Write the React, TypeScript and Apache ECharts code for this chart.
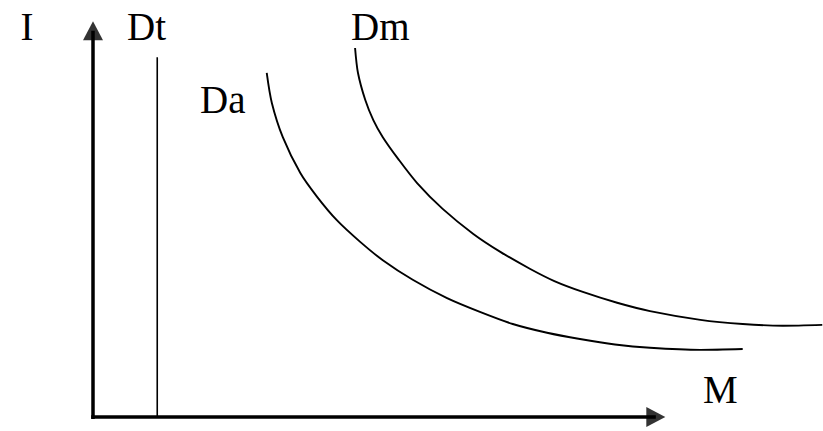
import React, { useEffect, useRef } from "react";
import * as echarts from "echarts";

// Curve data in chart units (M along x, I along y)
const dtLine: [number, number][] = [
  [8.8, 0],
  [8.8, 86.3],
];

const daCurve: [number, number][] = [
  [23.8, 82.5],
  [24.5, 75.3],
  [26.0, 67.1],
  [28.4, 58.5],
  [30.7, 52.8],
  [33.4, 47.2],
  [36.6, 42.0],
  [39.7, 37.6],
  [43.8, 32.9],
  [48.5, 28.5],
  [53.0, 25.2],
  [57.5, 22.3],
  [62.2, 20.2],
  [66.7, 18.7],
  [71.5, 17.4],
  [76.3, 16.6],
  [83.2, 16.1],
  [89.0, 16.3],
];

const dmCurve: [number, number][] = [
  [35.9, 88.5],
  [36.3, 82.5],
  [37.3, 76.0],
  [38.4, 71.2],
  [39.7, 67.1],
  [41.8, 61.9],
  [44.4, 56.1],
  [47.9, 49.9],
  [52.1, 43.9],
  [55.8, 39.6],
  [59.9, 35.5],
  [63.2, 32.6],
  [67.1, 30.0],
  [71.8, 27.4],
  [76.3, 25.4],
  [83.2, 23.3],
  [89.0, 22.3],
  [94.5, 21.9],
  [99.9, 22.1],
];

// Axis lines and arrowhead centres in chart units
const xAxisLine: [number, number][] = [
  [-0.25, 0],
  [77.1, 0],
];
const yAxisLine: [number, number][] = [
  [0, -0.45],
  [0, 92.6],
];
const xArrow: [number, number][] = [[77.1, 0]];
const yArrow: [number, number][] = [[0, 92.6]];

const labels = ["I", "Dt", "Dm", "Da", "M"];

const FONT = "'Liberation Serif', 'Times New Roman', serif";

export default function App() {
  const ref = useRef<HTMLDivElement>(null);

  useEffect(() => {
    if (!ref.current) return;
    const chart = echarts.init(ref.current, undefined, { renderer: "svg" });
    const textStyle = (t: string) => ({
      text: t,
      fill: "#000",
      font: `39px ${FONT}`,
      textVerticalAlign: "middle",
      verticalAlign: "middle",
    });
    const lineBase = {
      type: "line",
      symbol: "none",
      silent: true,
      clip: false,
      emphasis: { disabled: true },
    };
    chart.setOption({
      animation: false,
      backgroundColor: "#fff",
      grid: { left: 93, right: 0, top: 0, bottom: 14 },
      xAxis: { type: "value", min: 0, max: 100, show: false },
      yAxis: { type: "value", min: 0, max: 100, show: false },
      series: [
        { ...lineBase, name: "xAxis", data: xAxisLine, lineStyle: { color: "#000", width: 3.5 } },
        { ...lineBase, name: "yAxis", data: yAxisLine, lineStyle: { color: "#000", width: 3.5 } },
        {
          type: "scatter",
          name: "xArrow",
          data: xArrow,
          symbol: "triangle",
          symbolSize: [20, 19],
          symbolRotate: -90,
          silent: true,
          clip: false,
          itemStyle: { color: "#000" },
        },
        {
          type: "scatter",
          name: "yArrow",
          data: yArrow,
          symbol: "triangle",
          symbolSize: [20, 19],
          silent: true,
          clip: false,
          itemStyle: { color: "#000" },
        },
        { ...lineBase, name: labels[1], data: dtLine, lineStyle: { color: "#000", width: 1.6 } },
        {
          ...lineBase,
          name: labels[3],
          data: daCurve,
          smooth: 0.3,
          lineStyle: { color: "#000", width: 1.9 },
        },
        {
          ...lineBase,
          name: labels[2],
          data: dmCurve,
          smooth: 0.3,
          lineStyle: { color: "#000", width: 1.9 },
        },
      ],
      graphic: [
        { type: "text", x: 27, y: 26, style: { ...textStyle(labels[0]), textAlign: "center", align: "center" } },
        { type: "text", x: 127, y: 26, style: { ...textStyle(labels[1]), textAlign: "left", align: "left" } },
        { type: "text", x: 351, y: 26, style: { ...textStyle(labels[2]), textAlign: "left", align: "left" } },
        { type: "text", x: 200, y: 99, style: { ...textStyle(labels[3]), textAlign: "left", align: "left" } },
        { type: "text", x: 703, y: 389, style: { ...textStyle(labels[4]), textAlign: "left", align: "left" } },
      ],
    });
    return () => chart.dispose();
  }, []);

  return (
    <div
      ref={ref}
      style={{ width: 823, height: 431, position: "absolute", left: 0, top: 0 }}
    />
  );
}
